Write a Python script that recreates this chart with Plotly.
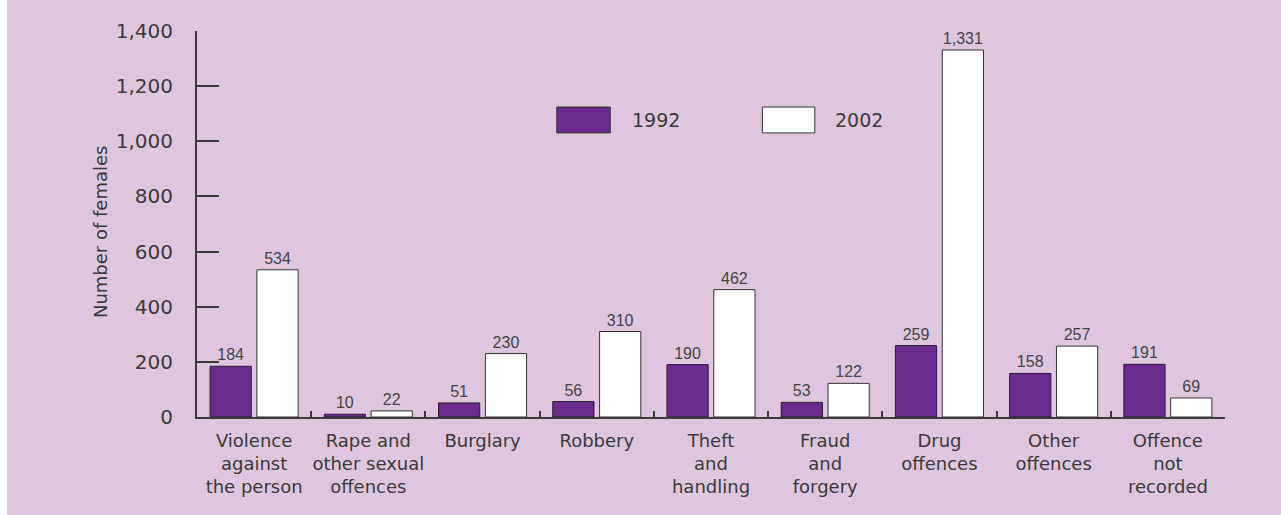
import plotly.graph_objects as go

categories = [
    "Violence<br>against<br>the person",
    "Rape and<br>other sexual<br>offences",
    "Burglary",
    "Robbery",
    "Theft<br>and<br>handling",
    "Fraud<br>and<br>forgery",
    "Drug<br>offences",
    "Other<br>offences",
    "Offence<br>not<br>recorded",
]
values_1992 = [184, 10, 51, 56, 190, 53, 259, 158, 191]
values_2002 = [534, 22, 230, 310, 462, 122, 1331, 257, 69]
y_ticks = [0, 200, 400, 600, 800, 1000, 1200, 1400]

BG = "#DEC6DE"
PURPLE = "#6A2A8E"
DARK = "#3A3A3A"
FONT = "DejaVu Sans"
NARROW = "Liberation Sans Narrow, Liberation Sans, Arial Narrow, sans-serif"

fig = go.Figure()
fig.add_trace(go.Bar(
    x=categories, y=values_1992, name="1992",
    marker=dict(color=PURPLE, line=dict(color="#2a1a30", width=1)),
    texttemplate="%{y:,}", textposition="outside",
    textfont=dict(family=NARROW, size=16, color="#444"),
    cliponaxis=False,
))
fig.add_trace(go.Bar(
    x=categories, y=values_2002, name="2002",
    marker=dict(color="white", line=dict(color="#333", width=1)),
    texttemplate="%{y:,}", textposition="outside",
    textfont=dict(family=NARROW, size=16, color="#444"),
    cliponaxis=False,
))

fig.update_layout(
    width=1281, height=515,
    margin=dict(l=197, r=56, t=31, b=98),
    paper_bgcolor=BG, plot_bgcolor=BG,
    barmode="group", bargap=0.18, bargroupgap=0.12,
    showlegend=False,
    font=dict(family=FONT, color=DARK, size=17),
)
fig.update_xaxes(
    showline=True, linecolor=DARK, linewidth=2,
    ticks="inside", tickson="boundaries", ticklen=6, tickwidth=2, tickcolor=DARK,
    tickfont=dict(family=FONT, size=18, color=DARK),
    tickangle=0, ticklabelstandoff=6,
    showgrid=False, zeroline=False,
)
fig.update_yaxes(
    range=[0, 1400], tickvals=y_ticks, tickformat=",",
    showline=True, linecolor=DARK, linewidth=2,
    ticks="inside", ticklen=22, tickwidth=2, tickcolor=DARK,
    tickfont=dict(family=FONT, size=20, color=DARK),
    ticklabelstandoff=18,
    showgrid=False, zeroline=False,
)

# y-axis title
fig.add_annotation(
    text="Number of females", textangle=-90,
    xref="paper", yref="paper", x=-0.094, y=0.48,
    xanchor="center", yanchor="middle", showarrow=False,
    font=dict(family=FONT, size=18, color=DARK),
)

# legend drawn with shapes + text
legend_items = [("1992", PURPLE, 0.350, 0.402, 0.421), ("2002", "white", 0.550, 0.601, 0.619)]
for label, col, x0, x1, tx in legend_items:
    fig.add_shape(type="rect", xref="paper", yref="paper",
                  x0=x0, x1=x1, y0=0.736, y1=0.803,
                  fillcolor=col, line=dict(color="#333", width=1))
    fig.add_annotation(text=label, xref="paper", yref="paper", x=tx, y=0.769,
                       xanchor="left", yanchor="middle", showarrow=False,
                       font=dict(family=FONT, size=19, color=DARK))

# thin white strip at the left edge of the image
fig.add_shape(type="rect", xref="paper", yref="paper",
              x0=-197 / 1028, x1=-190 / 1028, y0=-98 / 386, y1=1 + 31 / 386,
              fillcolor="white", line=dict(width=0), layer="below")

fig.write_html("out.html", config={"displayModeBar": False},
               post_script="document.body.style.margin='0';")
